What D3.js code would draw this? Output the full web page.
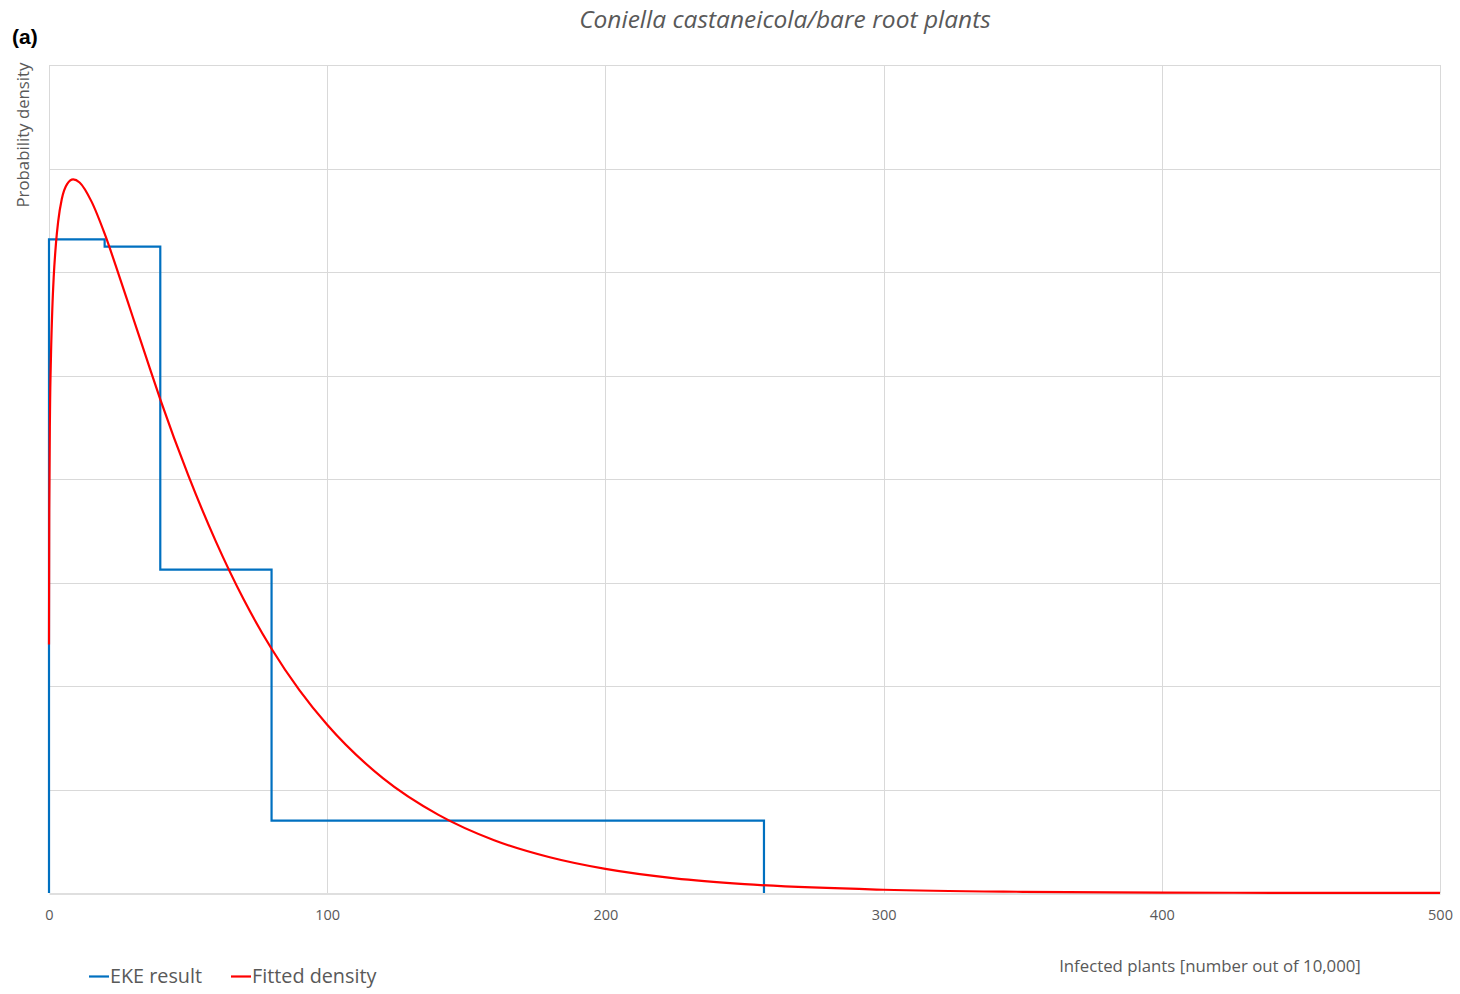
<!DOCTYPE html>
<html>
<head>
<meta charset="utf-8">
<script src="https://cdn.jsdelivr.net/npm/d3@7"></script>
<style>
  html, body { margin: 0; padding: 0; background: #ffffff; }
  svg { display: block; }
  text { font-family: "Open Sans", "Noto Sans", sans-serif; fill: #595959; }
</style>
</head>
<body>
<svg id="chart" width="1460" height="994"></svg>
<script>
// ---------------- data ----------------
const titleText = "Coniella castaneicola/bare root plants";
const panelLabel = "(a)";
const yAxisTitle = "Probability density";
const xAxisTitle = "Infected plants [number out of 10,000]";
const seriesNames = ["EKE result", "Fitted density"];

const xTickValues = [0, 100, 200, 300, 400, 500];
const yGridValues = [0, 0.002, 0.004, 0.006, 0.008, 0.010, 0.012, 0.014, 0.016];

// EKE result: bin edges and density per bin
const ekeEdges = [0, 20, 40, 80, 257];
const ekeDensity = [0.01263, 0.01249, 0.00625, 0.00140];

// Fitted density
const fitX = [0, 0.1, 0.36, 0.72, 1.2, 1.69, 2.5, 3.3, 4.6, 6.5, 8.7, 11, 15.3, 20, 25, 30, 35, 40,
              50, 60, 70, 80, 90, 100, 120, 140, 160, 180, 200, 225, 250, 300, 350, 400, 450, 500];
const fitY = [0.0048, 0.0074, 0.0093, 0.01040, 0.01130, 0.01190, 0.01255, 0.01298, 0.01341, 0.01370,
              0.01379, 0.01373, 0.01336, 0.01274, 0.01196, 0.01115, 0.01034, 0.00954,
              0.00808, 0.00679, 0.00567, 0.00472, 0.00392, 0.00325, 0.00222, 0.00151, 0.00102,
              0.00069, 0.000465, 0.000283, 0.000172, 0.000063, 0.000023, 0.0000084, 0.000003, 0.0000011];

// ---------------- chart ----------------
const svg = d3.select("#chart");
const plot = { left: 49, right: 1440, top: 65, bottom: 893 };

const x = d3.scaleLinear().domain([0, 500]).range([plot.left, plot.right]);
const y = d3.scaleLinear().domain([0, 0.016]).range([plot.bottom, plot.top]);

// gridlines
const grid = svg.append("g");
grid.selectAll("line.h").data(yGridValues.slice(1)).enter().append("line")
  .attr("x1", plot.left).attr("x2", plot.right)
  .attr("y1", d => Math.round(y(d)) + 0.5).attr("y2", d => Math.round(y(d)) + 0.5)
  .attr("stroke", "#d9d9d9").attr("stroke-width", 1);
grid.selectAll("line.v").data(xTickValues).enter().append("line")
  .attr("y1", plot.top).attr("y2", plot.bottom)
  .attr("x1", d => Math.round(x(d)) + 0.5).attr("x2", d => Math.round(x(d)) + 0.5)
  .attr("stroke", "#d9d9d9").attr("stroke-width", 1);

// x axis
const xAxis = d3.axisBottom(x).tickValues(xTickValues).tickSize(0).tickPadding(16).tickFormat(d3.format("d"));
const gx = svg.append("g").attr("transform", `translate(0,${Math.round(plot.bottom) + 0.5})`).call(xAxis);
gx.select(".domain").attr("stroke", "#bfbfbf").attr("stroke-width", 1.2);
gx.selectAll("text").style("font-size", "14.5px").attr("fill", "#595959")
  .style("font-family", '"Open Sans", sans-serif');

// EKE step line
const ekePts = [[ekeEdges[0], 0]];
ekeDensity.forEach((d, i) => {
  ekePts.push([ekeEdges[i], d]);
  ekePts.push([ekeEdges[i + 1], d]);
});
ekePts.push([ekeEdges[ekeEdges.length - 1], 0]);
const lineGen = d3.line().x(d => x(d[0])).y(d => y(d[1]));
svg.append("path").datum(ekePts).attr("d", lineGen)
  .attr("fill", "none").attr("stroke", "#0070c0").attr("stroke-width", 2.2)
  .attr("stroke-linejoin", "miter");

// Fitted density
const fitPts = fitX.map((v, i) => [v, fitY[i]]);
svg.append("path").datum(fitPts)
  .attr("d", d3.line().x(d => x(d[0])).y(d => y(d[1])).curve(d3.curveMonotoneX))
  .attr("fill", "none").attr("stroke", "#ff0000").attr("stroke-width", 2.2);

// title
svg.append("text").attr("x", 785).attr("y", 28).attr("text-anchor", "middle")
  .style("font-size", "24.5px").style("font-style", "italic").text(titleText);

// panel label
svg.append("text").attr("x", 12).attr("y", 44)
  .style("font-family", '"Liberation Sans", Arial, sans-serif')
  .style("font-weight", "bold").style("font-size", "21px")
  .style("fill", "#000").text(panelLabel);

// y axis title
svg.append("text").attr("transform", "translate(29,135) rotate(-90)")
  .attr("text-anchor", "middle").style("font-size", "16.8px").text(yAxisTitle);

// x axis title
svg.append("text").attr("x", 1210).attr("y", 972).attr("text-anchor", "middle")
  .style("font-size", "16.8px").text(xAxisTitle);

// legend
const legendColors = ["#0070c0", "#ff0000"];
const legendX = [89, 231];
const lg = svg.append("g");
seriesNames.forEach((name, i) => {
  lg.append("line").attr("x1", legendX[i]).attr("x2", legendX[i] + 20)
    .attr("y1", 976.5).attr("y2", 976.5)
    .attr("stroke", legendColors[i]).attr("stroke-width", 2.2);
  lg.append("text").attr("x", legendX[i] + 21).attr("y", 983)
    .style("font-size", "19.8px").text(name);
});
</script>
</body>
</html>
